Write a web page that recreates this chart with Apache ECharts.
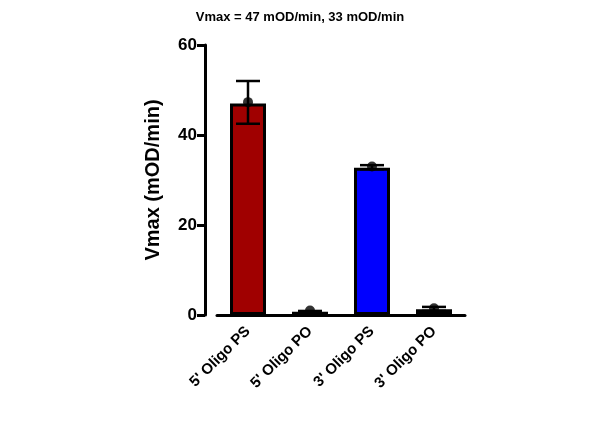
<!DOCTYPE html>
<html>
<head>
<meta charset="utf-8">
<script src="https://cdn.jsdelivr.net/npm/echarts@6/dist/echarts.min.js"></script>
<style>html,body{margin:0;background:#fff}#chart{width:600px;height:447px}</style>
</head>
<body>
<div id="chart"></div>
<script>
const categories = ["5' Oligo PS", "5' Oligo PO", "3' Oligo PS", "3' Oligo PO"];
const means = [47, 0.7, 32.7, 1.3];
const points = [47.3, 1.0, 33.0, 1.5];
const errLow = [42.5, 0.5, 32.4, 0.9];
const errHigh = [52, 0.9, 33.3, 1.8];
const colors = ['#a00000', '#ffffff', '#0000ff', '#ffffff'];

const chart = echarts.init(document.getElementById("chart"));

const option = {
  animation: false,
  title: {
    text: 'Vmax = 47 mOD/min, 33 mOD/min',
    left: 'center', top: 6,
    textStyle: { fontFamily: 'Arial', fontSize: 13, fontWeight: 'bold', color: '#000' }
  },
  grid: { left: 217, right: 135, top: 45, bottom: 132 },
  xAxis: {
    type: 'category',
    data: categories,
    axisLine: { lineStyle: { color: '#000', width: 3 } },
    axisTick: { alignWithLabel: true, length: 8, lineStyle: { color: '#000', width: 3 } },
    axisLabel: { rotate: 45, margin: 14, color: '#000', fontFamily: 'Arial', fontSize: 15, fontWeight: 'bold' }
  },
  yAxis: {
    type: 'value', min: 0, max: 60, interval: 20,
    offset: 12,
    name: 'Vmax (mOD/min)', nameLocation: 'middle', nameGap: 42,
    nameTextStyle: { fontFamily: 'Arial', fontSize: 20, fontWeight: 'bold', color: '#000' },
    axisLine: { show: true, lineStyle: { color: '#000', width: 3 } },
    axisTick: { show: true, length: 8, lineStyle: { color: '#000', width: 3 } },
    axisLabel: { color: '#000', fontFamily: 'Arial', fontSize: 17, fontWeight: 'bold' },
    splitLine: { show: false }
  },
  series: [
    {
      type: 'bar',
      barWidth: 36,
      data: means.map((v, i) => ({ value: v, itemStyle: { color: colors[i] } })),
      itemStyle: { borderColor: '#000', borderWidth: 3 }
    },
    {
      type: 'custom',
      z: 5,
      renderItem: (params, api) => {
        const i = api.value(0);
        const lo = api.coord([i, api.value(1)]);
        const hi = api.coord([i, api.value(2)]);
        const w = 12;
        const st = { stroke: '#000', lineWidth: 2.5 };
        return {
          type: 'group',
          children: [
            { type: 'line', shape: { x1: lo[0], y1: lo[1], x2: hi[0], y2: hi[1] }, style: st },
            { type: 'line', shape: { x1: lo[0] - w, y1: lo[1], x2: lo[0] + w, y2: lo[1] }, style: st },
            { type: 'line', shape: { x1: hi[0] - w, y1: hi[1], x2: hi[0] + w, y2: hi[1] }, style: st }
          ]
        };
      },
      data: categories.map((c, i) => [i, errLow[i], errHigh[i]])
    },
    {
      type: 'scatter',
      z: 6,
      symbolSize: 10,
      itemStyle: { color: '#000' },
      data: points.map((v, i) => [i, v])
    }
  ]
};

chart.setOption(option);
</script>
</body>
</html>
